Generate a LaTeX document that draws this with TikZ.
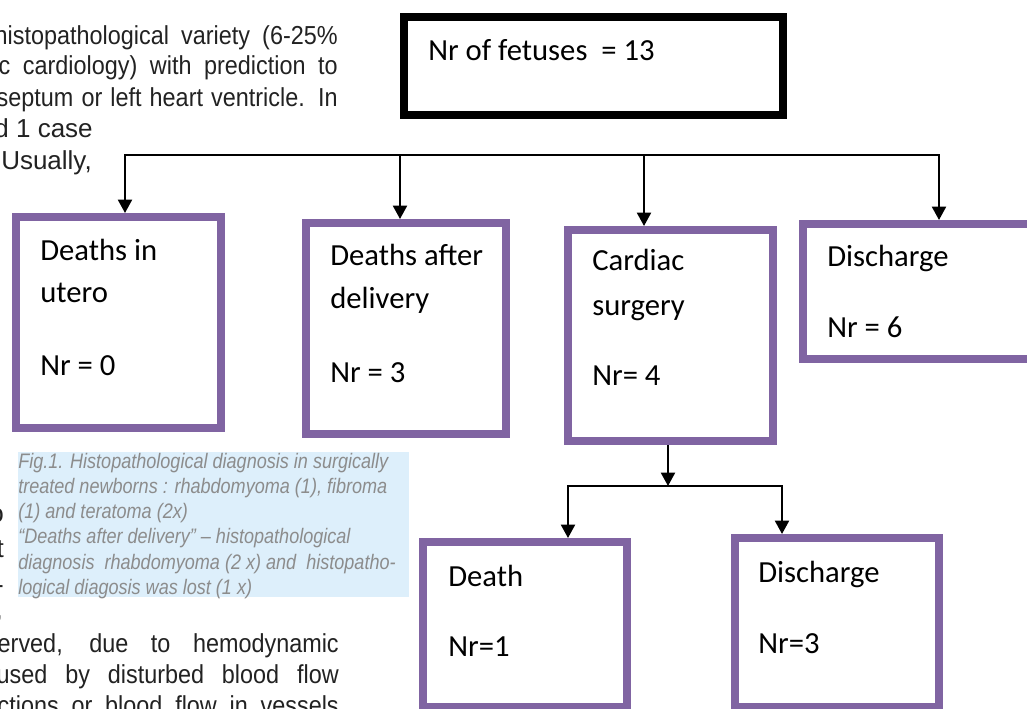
\documentclass[tikz,border=0pt]{standalone}
\usepackage{fontspec}
\setmainfont{Liberation Sans}
\newfontfamily\carlito{Carlito}
\newfontfamily\capfont[FakeStretch=0.86]{Liberation Sans}
\newfontfamily\bodyfont{Liberation Sans}
\newfontfamily\bodynarrow[FakeStretch=0.9]{Liberation Sans}
\usetikzlibrary{arrows.meta}
\newlength\pxu
\setlength\pxu{0.75pt}
\definecolor{boxpurple}{HTML}{8064A2}
\definecolor{capfill}{HTML}{DDEFFB}
\definecolor{capgray}{HTML}{8C8C8C}
\definecolor{bodyink}{HTML}{222222}
\begin{document}
\begin{tikzpicture}[x=0.75pt,y=-0.75pt,
  pbox/.style={draw=boxpurple, line width=6pt, inner sep=0pt},
  kbox/.style={draw=black, line width=6pt, inner sep=0pt},
  lbl/.style={font=\carlito\fontsize{23}{27}\selectfont, anchor=base west, inner sep=0pt, text=black},
  body/.style={font=\bodyfont\fontsize{19.5}{24}\selectfont, inner sep=0pt, text=bodyink},
  bodyj/.style={font=\bodynarrow\fontsize{19.5}{24}\selectfont, inner sep=0pt, text=bodyink, anchor=base east},
  captxt/.style={font=\capfont\itshape\fontsize{15.75}{19}\selectfont, anchor=base west, inner sep=0pt, text=capgray},
  conn/.style={draw=black, line width=1.5pt, line cap=rect},
  arr/.style={draw=black, line width=1.5pt, -{Triangle[length=10pt,width=10.5pt]}}]
\useasboundingbox (0,0) rectangle (1027,709);
\clip (0,0) rectangle (1027,709);
\fill[white] (0,0) rectangle (1027,709);

% surrounding page text (clipped)
\node[bodyj] (p1) at (338,45) {\makebox[343\pxu][s]{histopathological variety (6-25\%}};
\node[bodyj] (p2) at (338,75) {\makebox[339\pxu][s]{c cardiology) with prediction to}};
\node[bodyj] (p3) at (338,107) {\makebox[341\pxu][s]{septum or left heart ventricle. In}};
\node[body, anchor=base east] (p4) at (93,138) {d 1 case};
\node[body, anchor=base west] (p5) at (1,170) {Usually,};
\node[body, anchor=base east] (f1) at (4,522) {o};
\node[body, anchor=base east] (f2) at (4,557) {t};
\node[body, anchor=base east] (f3) at (4,593) {-};
\node[body, anchor=base east] (f4) at (3,618) {,};
\node[bodyj] (p6) at (339,652) {\makebox[341\pxu][s]{erved, due to hemodynamic}};
\node[bodyj] (p7) at (339,683) {\makebox[342\pxu][s]{used by disturbed blood flow}};
\node[bodyj] (p8) at (339,714) {\makebox[341\pxu][s]{ctions or blood flow in vessels}};

% caption
\node[fill=capfill, minimum width=391\pxu, minimum height=145\pxu, inner sep=0pt] (capbg) at (213.5,524.5) {};
\node[captxt] (c1) at (18,468) {Fig.1. Histopathological diagnosis in surgically};
\node[captxt] (c2) at (18,493) {treated newborns : rhabdomyoma (1), fibroma};
\node[captxt] (c3) at (18,518) {(1) and teratoma (2x)};
\node[captxt] (c4) at (18,543.5) {“Deaths after delivery” – histopathological};
\node[captxt] (c5) at (18,569) {diagnosis\ \ rhabdomyoma (2 x) and\ \ histopatho-};
\node[captxt] (c6) at (18,594) {logical diagosis was lost (1 x)};

% boxes
\node[kbox, minimum width=379\pxu, minimum height=98\pxu] (top) at (593.5,66) {};
\node[pbox, minimum width=205\pxu, minimum height=211\pxu] (b1) at (118.5,322.5) {};
\node[pbox, minimum width=200\pxu, minimum height=211\pxu] (b2) at (406,328.5) {};
\node[pbox, minimum width=205\pxu, minimum height=211\pxu] (b3) at (670.5,335.5) {};
\node[pbox, minimum width=237\pxu, minimum height=135\pxu] (b4) at (921.5,291.5) {};
\node[pbox, minimum width=204\pxu, minimum height=165\pxu] (b5) at (525,624.5) {};
\node[pbox, minimum width=204\pxu, minimum height=169\pxu] (b6) at (837,622.5) {};

% box texts
\node[lbl] (toptxt) at (428,61) {Nr of fetuses\ \ = 13};
\node[lbl] (b1a) at (40,260) {Deaths in};
\node[lbl] (b1b) at (40,302) {utero};
\node[lbl] (b1c) at (40,375) {Nr = 0};
\node[lbl] (b2a) at (330,265) {Deaths after};
\node[lbl] (b2b) at (330,308) {delivery};
\node[lbl] (b2c) at (330,382) {Nr = 3};
\node[lbl] (b3a) at (592,271) {Cardiac};
\node[lbl] (b3b) at (592,315) {surgery};
\node[lbl] (b3c) at (592,385) {Nr= 4};
\node[lbl] (b4a) at (827,267) {Discharge};
\node[lbl] (b4b) at (827,337) {Nr = 6};
\node[lbl] (b5a) at (448,586) {Death};
\node[lbl] (b5b) at (448,656) {Nr=1};
\node[lbl] (b6a) at (758,582) {Discharge};
\node[lbl] (b6b) at (758,653) {Nr=3};

% connectors
\coordinate (t1) at (125,155);
\coordinate (t2) at (400,155);
\coordinate (t3) at (644,155);
\coordinate (t4) at (939,155);
\draw[conn] (t1) -- (t4);
\draw[arr] (t1) -- (t1 |- b1.north);
\draw[arr] (t2) -- (t2 |- b2.north);
\draw[arr] (t3) -- (t3 |- b3.north);
\draw[arr] (t4) -- (t4 |- b4.north);

\coordinate (s0) at (668,486);
\coordinate (s5) at (568,486);
\coordinate (s6) at (782,486);
\draw[arr] (b3.south -| s0) -- (s0);
\draw[conn] (s5) -- (s6);
\draw[arr] (s5) -- (s5 |- b5.north);
\draw[arr] (s6) -- (s6 |- b6.north);
\end{tikzpicture}
\end{document}
